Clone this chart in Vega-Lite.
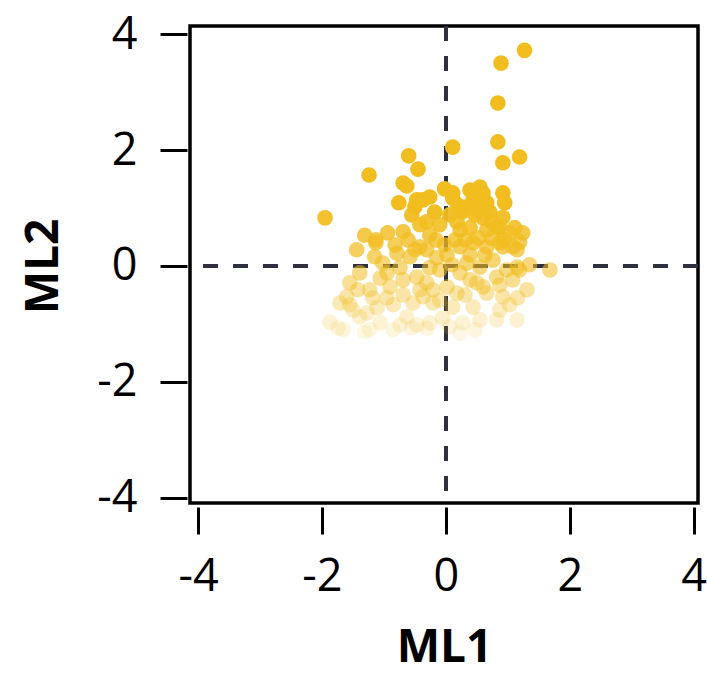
{
  "$schema": "https://vega.github.io/schema/vega-lite/v6.json",
  "width": 508,
  "height": 477,
  "autosize": "none",
  "padding": {"left": 190, "top": 26, "right": 9, "bottom": 172},
  "config": {
    "view": {"stroke": "black", "strokeWidth": 3.5},
    "axis": {"labelFont": "Open Sans", "titleFont": "Open Sans", "labelColor": "black", "titleColor": "black", "grid": false, "domain": false, "tickColor": "black", "tickWidth": 3}
  },
  "data": {"values": [
    {"ML1": 1.27, "ML2": 3.72}, {"ML1": 0.89, "ML2": 3.50}, {"ML1": 0.84, "ML2": 2.81}, {"ML1": 0.84, "ML2": 2.14},
    {"ML1": 0.11, "ML2": 2.05}, {"ML1": 1.19, "ML2": 1.88}, {"ML1": -0.60, "ML2": 1.90}, {"ML1": 0.92, "ML2": 1.78},
    {"ML1": -0.45, "ML2": 1.67}, {"ML1": -1.24, "ML2": 1.57}, {"ML1": -0.69, "ML2": 1.43}, {"ML1": -0.63, "ML2": 1.38},
    {"ML1": -0.76, "ML2": 1.09}, {"ML1": -0.47, "ML2": 1.14}, {"ML1": -0.50, "ML2": 1.02}, {"ML1": -1.95, "ML2": 0.83},
    {"ML1": -0.94, "ML2": 0.57}, {"ML1": -0.69, "ML2": 0.59}, {"ML1": -1.13, "ML2": 0.45}, {"ML1": -1.31, "ML2": 0.53},
    {"ML1": -1.44, "ML2": 0.28},
    {"ML1": -0.02, "ML2": 1.33}, {"ML1": 0.11, "ML2": 1.26}, {"ML1": 0.11, "ML2": 1.17}, {"ML1": 0.39, "ML2": 1.31},
    {"ML1": 0.55, "ML2": 1.36}, {"ML1": 0.60, "ML2": 1.26}, {"ML1": 0.44, "ML2": 1.14}, {"ML1": 0.66, "ML2": 1.09},
    {"ML1": 0.92, "ML2": 1.26}, {"ML1": 0.95, "ML2": 1.09}, {"ML1": 0.50, "ML2": 0.97}, {"ML1": 0.60, "ML2": 0.83},
    {"ML1": 0.92, "ML2": 0.84}, {"ML1": 0.34, "ML2": 1.02}, {"ML1": -0.26, "ML2": 1.19}, {"ML1": -0.37, "ML2": 1.14},
    {"ML1": -0.18, "ML2": 0.93}, {"ML1": -0.31, "ML2": 0.76}, {"ML1": 0.23, "ML2": 0.62}, {"ML1": 0.39, "ML2": 0.66},
    {"ML1": 0.66, "ML2": 0.62}, {"ML1": 0.87, "ML2": 0.67}, {"ML1": 1.03, "ML2": 0.57}, {"ML1": 1.24, "ML2": 0.57},
    {"ML1": 0.82, "ML2": 0.67},
    {"ML1": -0.55, "ML2": 0.88}, {"ML1": -0.42, "ML2": 0.71}, {"ML1": -0.61, "ML2": 0.45}, {"ML1": -0.82, "ML2": 0.36},
    {"ML1": -0.50, "ML2": 0.28}, {"ML1": -0.26, "ML2": 0.53}, {"ML1": -0.10, "ML2": 0.71}, {"ML1": -0.16, "ML2": 0.45},
    {"ML1": 0.06, "ML2": 0.88}, {"ML1": 0.18, "ML2": 0.76}, {"ML1": 0.31, "ML2": 0.45}, {"ML1": 0.52, "ML2": 0.48},
    {"ML1": 0.74, "ML2": 0.48}, {"ML1": 0.95, "ML2": 0.45}, {"ML1": 1.11, "ML2": 0.66}, {"ML1": 0.71, "ML2": 0.93},
    {"ML1": 0.26, "ML2": 0.93},
    {"ML1": -1.13, "ML2": 0.40}, {"ML1": -1.15, "ML2": 0.16}, {"ML1": -1.02, "ML2": 0.05}, {"ML1": -0.95, "ML2": -0.12},
    {"ML1": -0.79, "ML2": 0.22}, {"ML1": -0.58, "ML2": 0.16}, {"ML1": -0.42, "ML2": 0.33}, {"ML1": -0.74, "ML2": -0.03},
    {"ML1": -0.47, "ML2": -0.19}, {"ML1": -0.69, "ML2": -0.24}, {"ML1": -0.15, "ML2": 0.14}, {"ML1": 0.02, "ML2": 0.19},
    {"ML1": -0.31, "ML2": 0.28}, {"ML1": 0.23, "ML2": 0.33}, {"ML1": 0.44, "ML2": 0.40}, {"ML1": 0.66, "ML2": 0.33},
    {"ML1": 0.87, "ML2": 0.40}, {"ML1": 1.08, "ML2": 0.33}, {"ML1": 1.19, "ML2": 0.41}, {"ML1": 0.34, "ML2": 0.05},
    {"ML1": 0.55, "ML2": -0.02}, {"ML1": 0.76, "ML2": 0.10}, {"ML1": 0.98, "ML2": -0.07}, {"ML1": 0.23, "ML2": -0.12},
    {"ML1": 0.39, "ML2": -0.24}, {"ML1": 0.82, "ML2": -0.19}, {"ML1": 1.08, "ML2": -0.24}, {"ML1": 1.19, "ML2": -0.07},
    {"ML1": 0.92, "ML2": 0.33}, {"ML1": 1.15, "ML2": 0.28}, {"ML1": 1.15, "ML2": -0.02}, {"ML1": 1.35, "ML2": 0.02},
    {"ML1": 1.68, "ML2": -0.07}, {"ML1": -1.06, "ML2": -0.21}, {"ML1": -1.39, "ML2": -0.12}, {"ML1": -0.10, "ML2": -0.07},
    {"ML1": 0.10, "ML2": 0.02}, {"ML1": -0.26, "ML2": -0.03},
    {"ML1": -1.55, "ML2": -0.29}, {"ML1": -1.42, "ML2": -0.41}, {"ML1": -1.60, "ML2": -0.53}, {"ML1": -1.71, "ML2": -0.64},
    {"ML1": -1.55, "ML2": -0.67}, {"ML1": -1.50, "ML2": -0.76}, {"ML1": -1.87, "ML2": -0.97}, {"ML1": -1.74, "ML2": -1.07},
    {"ML1": -1.27, "ML2": -0.81}, {"ML1": -1.18, "ML2": -0.55}, {"ML1": -1.23, "ML2": -0.41}, {"ML1": -0.90, "ML2": -0.36},
    {"ML1": -0.95, "ML2": -0.55}, {"ML1": -0.85, "ML2": -0.67}, {"ML1": -1.11, "ML2": -0.72}, {"ML1": -1.06, "ML2": -0.98},
    {"ML1": -1.39, "ML2": -0.88}, {"ML1": -1.66, "ML2": -1.10}, {"ML1": -0.85, "ML2": -1.10}, {"ML1": -0.63, "ML2": -0.88},
    {"ML1": -0.55, "ML2": -1.07}, {"ML1": -0.53, "ML2": -0.64}, {"ML1": -0.42, "ML2": -0.41}, {"ML1": -0.69, "ML2": -0.50},
    {"ML1": -0.31, "ML2": -0.29}, {"ML1": -0.21, "ML2": -0.41}, {"ML1": -0.37, "ML2": -0.53}, {"ML1": 0.02, "ML2": -0.36},
    {"ML1": 0.18, "ML2": -0.47}, {"ML1": 0.50, "ML2": -0.29}, {"ML1": 0.66, "ML2": -0.47}, {"ML1": 0.92, "ML2": -0.53},
    {"ML1": 0.60, "ML2": -0.36}, {"ML1": 0.11, "ML2": -0.71}, {"ML1": 0.44, "ML2": -0.71}, {"ML1": 0.87, "ML2": -0.76},
    {"ML1": 0.82, "ML2": -0.93}, {"ML1": 1.15, "ML2": -0.93}, {"ML1": 1.31, "ML2": -0.41}, {"ML1": -0.21, "ML2": -0.64},
    {"ML1": -0.26, "ML2": -0.98}, {"ML1": -0.31, "ML2": -1.07}, {"ML1": 0.06, "ML2": -1.05}, {"ML1": 0.27, "ML2": -0.98},
    {"ML1": 0.47, "ML2": -1.10}, {"ML1": 0.23, "ML2": -1.16}, {"ML1": -0.47, "ML2": -1.02}, {"ML1": -1.31, "ML2": -1.14},
    {"ML1": -1.23, "ML2": -1.10}, {"ML1": -0.74, "ML2": -1.02}, {"ML1": -0.05, "ML2": -0.90}, {"ML1": 0.55, "ML2": -0.93},
    {"ML1": 1.03, "ML2": -0.67}, {"ML1": 1.16, "ML2": -0.55},
    {"ML1": 0.15, "ML2": 0.45}, {"ML1": 0.63, "ML2": 0.19}, {"ML1": 0.39, "ML2": 0.19}, {"ML1": 0.87, "ML2": -0.33},
    {"ML1": 0.31, "ML2": -0.50}, {"ML1": -0.10, "ML2": -0.59}, {"ML1": -0.02, "ML2": 0.36}, {"ML1": 0.47, "ML2": 0.88},
    {"ML1": 0.19, "ML2": 1.05}, {"ML1": 0.74, "ML2": 0.76}
  ]},
  "encoding": {
    "x": {"field": "ML1", "type": "quantitative", "scale": {"domain": [-4.13, 4.07], "nice": false, "zero": false},
      "axis": {"values": [-4, -2, 0, 2, 4], "title": "ML1", "offset": 4, "tickSize": 27, "labelPadding": 20, "labelFontSize": 45, "labelExpr": "'' + datum.value", "titleFontSize": 46, "titleFontWeight": "bold", "titleY": 154, "titleBaseline": "alphabetic"}},
    "y": {"field": "ML2", "type": "quantitative", "scale": {"domain": [-4.09, 4.14], "nice": false, "zero": false},
      "axis": {"values": [-4, -2, 0, 2, 4], "title": "ML2", "offset": 3, "tickSize": 27, "labelPadding": 23, "labelFontSize": 45, "labelExpr": "'' + datum.value", "titleFontSize": 46, "titleFontWeight": "bold", "titleAngle": -90, "titleX": -130, "titleY": 240, "titleAlign": "center", "titleBaseline": "alphabetic"}}
  },
  "layer": [
    {"mark": {"type": "rule", "strokeDash": [15, 15], "strokeWidth": 3, "color": "#2E3140"}, "encoding": {"x": {"datum": 0}, "y": null}},
    {"mark": {"type": "rule", "strokeDash": [15, 15], "strokeWidth": 3, "color": "#2E3140"}, "encoding": {"y": {"datum": 0}, "x": null}},
    {"mark": {"type": "circle", "size": 245, "color": "#F1BD1F"},
      "encoding": {"opacity": {"field": "ML2", "type": "quantitative", "scale": {"domain": [-1.2, 1.0], "range": [0.1, 1], "clamp": true}, "legend": null}}}
  ]
}
